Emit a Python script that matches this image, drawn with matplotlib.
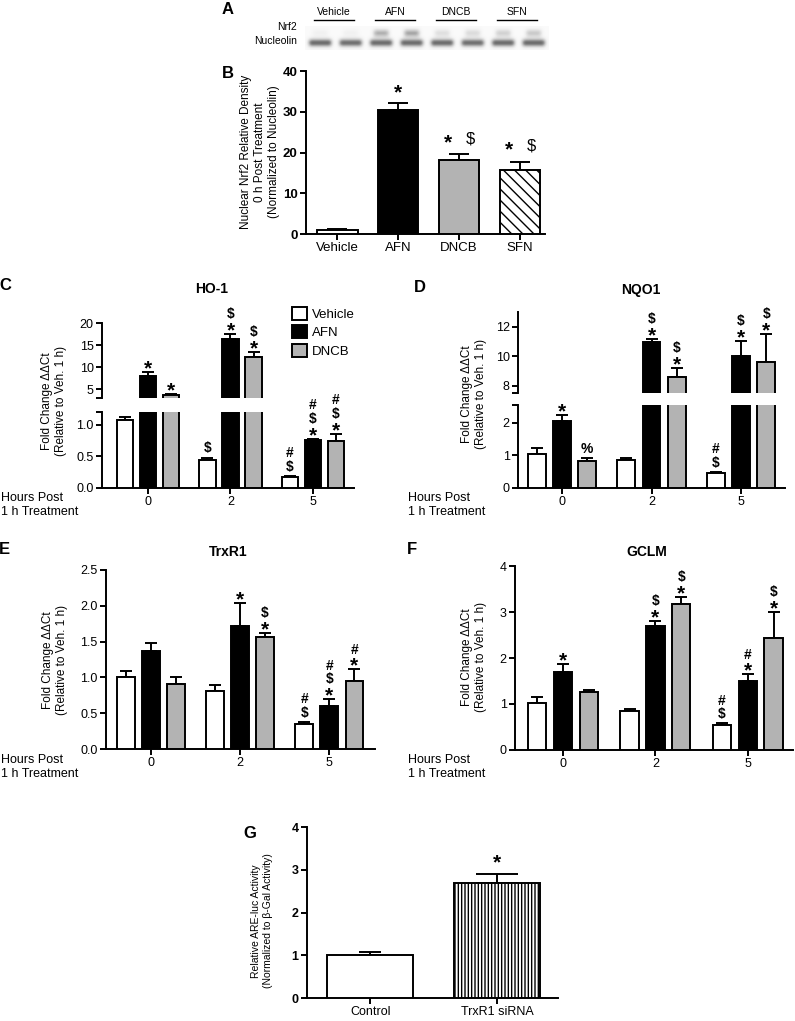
import matplotlib
matplotlib.use("Agg")
import matplotlib.pyplot as plt
from matplotlib.patches import Patch
from matplotlib.textpath import TextPath
from matplotlib.font_manager import FontProperties
import numpy as np

plt.rcParams["font.family"] = ["Liberation Sans", "DejaVu Sans"]
plt.rcParams["hatch.linewidth"] = 1.0

W, H = 795, 1021

# --- panel A: western blot band darkness (0 blank .. 1 black), 2 lanes per group
blot_groups = ["Vehicle", "AFN", "DNCB", "SFN"]
blot_rows = ["Nrf2", "Nucleolin"]
nrf2_band = [0.15, 0.15, 0.6, 0.65, 0.3, 0.33, 0.4, 0.45]
nucleolin_band = [0.95, 0.93, 0.95, 0.95, 0.95, 0.93, 0.95, 0.95]

# --- panel B: nuclear Nrf2 density
b_labels = ["Vehicle", "AFN", "DNCB", "SFN"]
b_mean = [1.0, 30.5, 18.1, 15.7]
b_err = [0.2, 1.6, 1.5, 2.0]
b_marks = ["", "*", "* $", "* $"]

# --- panels C-F: rows = Vehicle, AFN, DNCB ; columns = 0, 2, 5 h
hours = ["0", "2", "5"]
treatments = ["Vehicle", "AFN", "DNCB"]

ho1_mean = [[1.08, 0.44, 0.17], [7.9, 16.3, 0.75], [3.6, 12.3, 0.74]]
ho1_err = [[0.04, 0.04, 0.02], [1.0, 1.3, 0.03], [0.3, 1.2, 0.12]]
ho1_marks = [["", "$", "#\n$"], ["*", "$\n*", "#\n$\n*"], ["*", "$\n*", "#\n$\n*"]]

nqo1_mean = [[1.05, 0.85, 0.47], [2.06, 10.95, 10.0], [0.83, 8.6, 9.6]]
nqo1_err = [[0.17, 0.07, 0.02], [0.18, 0.25, 1.0], [0.1, 0.6, 1.9]]
nqo1_marks = [["", "", "#\n$"], ["*", "$\n*", "$\n*"], ["%", "$\n*", "$\n*"]]

trxr1_mean = [[1.0, 0.81, 0.35], [1.37, 1.72, 0.6], [0.91, 1.56, 0.95]]
trxr1_err = [[0.09, 0.08, 0.03], [0.11, 0.32, 0.1], [0.1, 0.06, 0.17]]
trxr1_marks = [["", "", "#\n$"], ["", "*", "#\n$\n*"], ["", "$\n*", "#\n*"]]

gclm_mean = [[1.02, 0.85, 0.55], [1.7, 2.7, 1.5], [1.26, 3.17, 2.43]]
gclm_err = [[0.13, 0.05, 0.03], [0.17, 0.1, 0.16], [0.04, 0.15, 0.57]]
gclm_marks = [["", "", "#\n$"], ["*", "$\n*", "#\n*"], ["", "$\n*", "$\n*"]]

# --- panel G: ARE-luc activity
g_labels = ["Control", "TrxR1 siRNA"]
g_mean = [1.0, 2.69]
g_err = [0.08, 0.21]
g_marks = ["", "*"]

fills = ["white", "black", "#b3b3b3"]
LW = 1.4
SYM_SIZE = {"*": 15, "$": 10, "#": 10, "%": 10}

fig = plt.figure(figsize=(W / 100, H / 100), dpi=100)


def px_axes(x0, y0, x1, y1):
    return fig.add_axes([x0 / W, 1 - y1 / H, (x1 - x0) / W, (y1 - y0) / H])


def ftext(x, y, s, **kw):
    return fig.text(x / W, 1 - y / H, s, **kw)


def ink(s, size, weight):
    fp = FontProperties(family=["Liberation Sans"], weight=weight)
    e = TextPath((0, 0), s, size=size, prop=fp).get_extents()
    return e.y0, e.height


def put_sym(ax, x, top, s, bottom_pt, dx=0, weight="bold", scale=1.0):
    size = SYM_SIZE[s] * scale
    y0, h = ink(s, size, weight)
    ax.annotate(s, (x, top), xytext=(dx, bottom_pt - y0), textcoords="offset points",
                ha="center", va="baseline", fontsize=size, fontweight=weight,
                parse_math=False, annotation_clip=False)
    return h


def put_centered(ax, x, top, s, center_pt, dx=0, weight="bold", scale=1.0):
    size = SYM_SIZE[s] * scale
    y0, h = ink(s, size, weight)
    put_sym(ax, x, top, s, center_pt - h / 2, dx=dx, weight=weight, scale=scale)


def stack_marks(ax, x, top, mark, gap=3.0):
    y = gap
    for s in mark.split("\n")[::-1]:
        y += put_sym(ax, x, top, s, y) + 2.2


def style(ax, size=9, bottom=True):
    for s in ["top", "right"]:
        ax.spines[s].set_visible(False)
    ax.spines["left"].set_linewidth(LW)
    ax.spines["bottom"].set_linewidth(LW)
    ax.spines["bottom"].set_visible(bottom)
    ax.tick_params(direction="out", length=4, width=LW, labelsize=size, pad=2)
    if not bottom:
        ax.tick_params(axis="x", bottom=False, labelbottom=False)


# ---------------- A: blot
ax = px_axes(305, 18, 549, 50)
sub = 8
img = np.full((5, len(nrf2_band) * sub), 0.04)
for i in range(len(nrf2_band)):
    img[1, i * sub + 2:i * sub + 6] = nrf2_band[i]
    img[3, i * sub + 1:i * sub + 7] = nucleolin_band[i]
ax.imshow(img, cmap="Greys", vmin=0, vmax=1, aspect="auto",
          interpolation="bicubic", extent=(0, len(nrf2_band), 5, 0))
ax.set_axis_off()
for g, name in enumerate(blot_groups):
    ax.plot([2 * g + 0.3, 2 * g + 1.6], [-1.4, -1.4], color="black", lw=1.0,
            clip_on=False)
    ax.text(2 * g + 0.95, -2.0, name, ha="center", va="bottom", fontsize=7.5,
            clip_on=False)
ftext(297, 27.5, blot_rows[0], ha="right", va="center", fontsize=7.5)
ftext(297, 40.5, blot_rows[1], ha="right", va="center", fontsize=7.5)

# ---------------- B
ax = px_axes(306, 71, 545, 234)
xb = np.arange(len(b_labels))
bfill = ["white", "black", "#b3b3b3", "white"]
bars = ax.bar(xb, b_mean, width=0.67, color=bfill, edgecolor="black", linewidth=LW, zorder=3)
bars[3].set_hatch("\\\\\\")
ax.errorbar(xb, b_mean, yerr=[np.zeros(4), b_err], fmt="none", ecolor="black",
            elinewidth=LW, capsize=7, capthick=LW, zorder=2)
for i, m in enumerate(b_marks):
    parts = m.split()
    top = b_mean[i] + b_err[i]
    if len(parts) == 1:
        put_centered(ax, xb[i], top, "*", 11)
    elif len(parts) == 2:
        put_centered(ax, xb[i], top, "*", 12, dx=-8)
        put_centered(ax, xb[i], top, "$", 12, dx=8, weight="normal", scale=1.2)
ax.set_xlim(-0.51, 3.41)
ax.set_ylim(0, 40)
ax.set_yticks([0, 10, 20, 30, 40])
ax.set_xticks(xb)
ax.set_xticklabels(b_labels)
style(ax, 9.5)
for t in ax.get_yticklabels():
    t.set_fontweight("bold")
ftext(260, 152, "Nuclear Nrf2 Relative Density\n0 h Post Treatment\n(Normalized to Nucleolin)",
      rotation=90, ha="center", va="center", fontsize=8.5, multialignment="center")

# ---------------- C-F
pos = np.arange(3)
offs = [-0.28, 0.0, 0.28]


def grouped(axes, mean, err, marks, cap=4):
    for ax in axes:
        for i in range(3):
            xs = pos + offs[i]
            ax.bar(xs, mean[i], width=0.2, color=fills[i], edgecolor="black",
                   linewidth=LW, zorder=3)
            ax.errorbar(xs, mean[i], yerr=[np.zeros(3), err[i]], fmt="none", ecolor="black",
                        elinewidth=LW, capsize=cap, capthick=LW, zorder=2)
    low = axes[-1]
    for i in range(3):
        for j in range(3):
            if not marks[i][j]:
                continue
            top = mean[i][j] + err[i][j]
            tax = axes[0] if (len(axes) > 1 and top > low.get_ylim()[1]) else low
            stack_marks(tax, pos[j] + offs[i], top, marks[i][j])


def finish_lower(ax, xlim):
    ax.set_xlim(*xlim)
    ax.set_xticks(pos)
    ax.set_xticklabels(hours)
    style(ax)


ylab = "Fold Change \u0394\u0394Ct\n(Relative to Veh. 1 h)"

# C: HO-1 (broken axis)
cu = px_axes(102, 323, 354, 398)
cl = px_axes(102, 412, 354, 488)
cu.set_ylim(3, 20)
cl.set_ylim(0, 1.2)
grouped([cu, cl], ho1_mean, ho1_err, ho1_marks)
cu.set_xlim(-0.56, 2.5)
cu.set_yticks([3, 5, 10, 15, 20])
cu.set_yticklabels(["", "5", "10", "15", "20"])
style(cu, bottom=False)
finish_lower(cl, (-0.56, 2.5))
cl.set_yticks([0, 0.5, 1.0, 1.2])
cl.set_yticklabels(["0.0", "0.5", "1.0", ""])
cu.legend([Patch(facecolor=f, edgecolor="black", linewidth=LW) for f in fills], treatments,
          loc="upper left", bbox_to_anchor=(292 / W, 1 - 307 / H),
          bbox_transform=fig.transFigure, frameon=False, fontsize=9.5,
          handlelength=1.1, handleheight=1.1, handletextpad=0.4,
          labelspacing=0.35, borderpad=0, borderaxespad=0)

# D: NQO1 (broken axis)
du = px_axes(518, 312, 785, 393)
dl = px_axes(518, 405, 785, 488)
du.set_ylim(7.5, 13)
dl.set_ylim(0, 2.55)
grouped([du, dl], nqo1_mean, nqo1_err, nqo1_marks)
du.set_xlim(-0.49, 2.49)
du.set_yticks([7.5, 8, 10, 12])
du.set_yticklabels(["", "8", "10", "12"])
style(du, bottom=False)
finish_lower(dl, (-0.49, 2.49))
dl.set_yticks([0, 1, 2, 2.55])
dl.set_yticklabels(["0", "1", "2", ""])

# E: TrxR1
ea = px_axes(106, 570, 375, 749)
ea.set_ylim(0, 2.5)
grouped([ea], trxr1_mean, trxr1_err, trxr1_marks)
finish_lower(ea, (-0.5, 2.51))
ea.set_yticks([0, 0.5, 1.0, 1.5, 2.0, 2.5])
ea.set_yticklabels(["0.0", "0.5", "1.0", "1.5", "2.0", "2.5"])

# F: GCLM
fa = px_axes(515, 566, 793, 750)
fa.set_ylim(0, 4)
grouped([fa], gclm_mean, gclm_err, gclm_marks)
finish_lower(fa, (-0.52, 2.49))
fa.set_yticks([0, 1, 2, 3, 4])

for (lx, ly) in [(54, 401), (474, 394), (55, 660), (474, 657)]:
    ftext(lx, ly, ylab, rotation=90, ha="center", va="center", fontsize=8.5,
          multialignment="center")
for (hx, hy) in [(1, 492), (408, 492), (1, 754), (408, 754)]:
    ftext(hx, hy, "Hours Post\n1 h Treatment", ha="left", va="top", fontsize=9,
          linespacing=1.25)
for (tx, ty, s) in [(212, 289, "HO-1"), (641, 290, "NQO1"), (228, 552, "TrxR1"), (647, 552, "GCLM")]:
    ftext(tx, ty, s, ha="center", va="center", fontsize=10, fontweight="bold")

# ---------------- G
ga = px_axes(307, 827, 558, 998)
xg = np.arange(len(g_labels))
gb = ga.bar(xg, g_mean, width=0.68, color="white", edgecolor="black", linewidth=LW, zorder=3)
gb[1].set_hatch("|||||")
for i, cap in enumerate([8, 15]):
    ga.errorbar(xg[i], g_mean[i], yerr=[[0], [g_err[i]]], fmt="none", ecolor="black",
                elinewidth=LW, capsize=cap, capthick=LW, zorder=2)
    if g_marks[i]:
        put_sym(ga, xg[i], g_mean[i] + g_err[i], g_marks[i], 8.5)
ga.set_xlim(-0.5, 1.48)
ga.set_ylim(0, 4)
ga.set_yticks([0, 1, 2, 3, 4])
ga.set_xticks(xg)
ga.set_xticklabels(g_labels)
style(ga)
for t in ga.get_yticklabels():
    t.set_fontweight("bold")
ftext(262, 921, "Relative ARE-luc Activity\n(Normalized to \u03b2-Gal Activity)",
      rotation=90, ha="center", va="center", fontsize=7.5, multialignment="center")

# panel letters
for (lx, ly, s) in [(228, 10, "A"), (228, 74, "B"), (5, 285, "C"), (420, 288, "D"),
                    (4, 550, "E"), (412, 550, "F"), (250, 833, "G")]:
    ftext(lx, ly, s, ha="center", va="center", fontsize=12, fontweight="bold")

fig.savefig("out.png", dpi=100)
